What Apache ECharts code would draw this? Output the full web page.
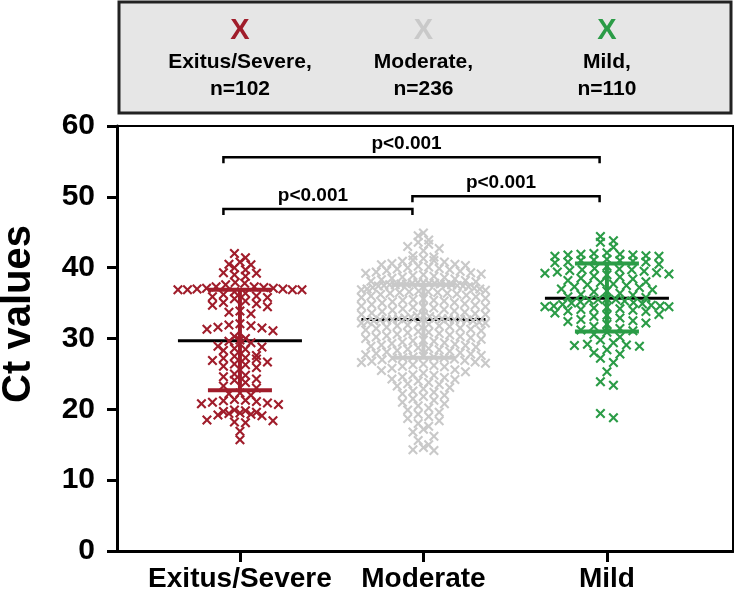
<!DOCTYPE html>
<html><head><meta charset="utf-8">
<script src="https://cdn.jsdelivr.net/npm/echarts@6/dist/echarts.min.js"></script>
<style>html,body{margin:0;padding:0;background:#fff}#c{width:734px;height:595px}</style>
</head><body><div id="c"></div>
<script>
// ---------------- data ----------------
const categories = ['Exitus/Severe', 'Moderate', 'Mild'];
const legendNames = ['Exitus/Severe,', 'Moderate,', 'Mild,'];
const legendCounts = ['n=102', 'n=236', 'n=110'];
const yTicks = [0, 10, 20, 30, 40, 50, 60];
const yAxisTitle = 'Ct values';

const severe = [
  42.0, 41.4, 40.8, 40.5, 40.4, 40.0, 39.7, 39.3, 39.2, 39.0, 38.8, 37.9, 37.8, 37.6, 37.3, 37.3, 37.2, 37.1, 37.1, 37.0, 37.0, 36.9, 36.9, 36.9, 36.9,
  36.6, 36.4, 36.2, 36.0, 35.9, 35.8, 35.6, 35.3, 35.1, 34.9, 34.7, 34.5, 33.9, 33.7, 33.5, 32.1, 31.9, 31.8, 31.6, 31.5, 31.3, 31.1, 30.3, 30.0, 29.8,
  29.6, 29.4, 28.9, 28.8, 28.6, 28.5, 28.3, 27.6, 27.5, 27.3, 27.2, 27.1, 26.9, 26.7, 26.4, 26.3, 26.1, 25.9, 25.0, 24.8, 24.6, 24.3, 24.1, 23.8, 23.3, 23.0,
  22.3, 22.2, 22.0, 21.4, 21.3, 21.2, 21.1, 21.0, 20.9, 20.8, 20.7, 19.9, 19.8, 19.7, 19.6, 19.5, 19.4, 19.3, 19.2, 19.1, 18.5, 18.4, 18.2, 18.1, 16.9, 15.7
];
const moderate = [
  44.9, 44.5, 43.9, 43.6, 43.3, 43.0, 42.7, 42.4,
  41.7, 41.5, 41.3, 41.1, 41.0, 40.9, 40.8, 40.6, 40.5, 40.4, 40.3, 40.2, 40.1, 40.0,
  39.9, 39.8, 39.7, 39.6, 39.5, 39.4, 39.3, 39.2, 39.1, 39.0,
  38.9, 38.8, 38.7, 38.6, 38.5, 38.4, 38.3, 38.2, 38.1, 38.0,
  37.9, 37.9, 37.8, 37.8, 37.8, 37.7, 37.7, 37.7, 37.6, 37.6, 37.6, 37.6,
  37.5, 37.5, 37.4, 37.4, 37.3, 37.2, 37.1, 37.0, 37.0, 36.9,
  36.8, 36.7, 36.6, 36.5, 36.5, 36.4, 36.3, 36.2, 36.1, 36.0,
  35.9, 35.8, 35.7, 35.6, 35.5, 35.4, 35.3, 35.2, 35.1, 35.0,
  34.9, 34.8, 34.7, 34.6, 34.5, 34.4, 34.3, 34.2, 34.1, 34.0,
  33.9, 33.8, 33.7, 33.6, 33.5, 33.4, 33.3, 33.2, 33.1, 33.0,
  32.9, 32.9, 32.8, 32.8, 32.8, 32.7, 32.7, 32.7, 32.7, 33.4, 34.4, 35.4, 36.4, 36.6,
  32.6, 32.6, 32.5, 32.5, 32.4, 32.3, 32.2, 32.2, 32.1, 32.0,
  31.9, 31.8, 31.8, 31.7, 31.6, 31.5, 31.4, 31.3, 31.2, 31.1,
  31.0, 30.9, 30.8, 30.7, 30.6, 30.5, 30.4, 30.3, 30.2, 30.1,
  30.0, 29.9, 29.8, 29.7, 29.6, 29.5, 29.4, 29.3, 29.2, 29.1,
  29.0, 28.9, 28.8, 28.7, 28.6, 28.5, 28.4, 28.3, 28.2, 28.1,
  28.0, 27.9, 27.8, 27.7, 27.6, 27.5, 27.4, 27.4, 27.3, 27.3,
  27.2, 27.1, 27.0, 26.9, 26.8, 26.7, 26.6, 26.5, 26.4, 26.3, 26.2, 26.1, 26.0,
  25.8, 25.6, 25.5, 25.3, 25.1, 24.9, 24.8, 24.6, 24.5, 24.3,
  24.2, 24.0, 23.8, 23.6, 23.5, 23.3, 23.1, 22.9, 22.6,
  22.4, 22.2, 22.0, 21.8, 21.5, 21.3, 21.0, 20.8,
  20.5, 20.2, 19.9, 19.6, 19.3, 19.0, 18.7,
  18.4, 18.0, 17.6, 17.2, 16.8, 16.2,
  15.6, 15.0, 14.6, 14.3, 14.2
];
const mild = [
  44.4, 43.8, 43.6, 42.9, 42.1, 42.0, 41.9, 41.9, 41.8, 41.8, 41.7, 41.6, 41.6, 41.2, 41.1, 41.0, 41.0, 40.9, 40.8, 40.8, 40.7,
  40.5, 40.2, 39.9, 39.8, 39.7, 39.7, 39.6, 39.5, 39.4, 39.3, 39.2, 39.1, 39.0, 38.8, 38.7, 38.5, 38.4, 38.2, 38.0, 37.9,
  37.7, 37.6, 37.5, 37.3, 37.2, 37.0, 36.9, 36.7, 36.6, 36.4, 36.2, 36.1, 35.9, 35.8,
  35.6, 35.5, 35.5, 35.4, 35.3, 35.2, 35.1, 35.0, 34.9, 34.8, 34.7, 34.6, 34.6, 34.5, 34.5, 34.4, 34.3, 34.2, 34.1, 34.0,
  33.9, 33.8, 33.6, 33.4, 33.3, 33.1, 32.9, 32.7, 32.5, 32.4, 32.2, 32.0, 31.7, 31.4, 31.2, 31.1, 30.9, 30.6, 30.2, 29.8,
  29.4, 29.2, 29.1, 29.0, 28.9, 28.4, 28.0, 27.8, 27.2, 26.6, 25.3, 23.9, 23.4, 19.4, 18.8
];
const medians = [29.7, 32.7, 35.7];
const q1 = [22.7, 27.3, 31.0];
const q3 = [36.9, 37.6, 40.6];

const pLabels = ['p<0.001', 'p<0.001', 'p<0.001'];
const bracketFrom = [0.91, 0.91, 1.94];
const bracketTo = [2.96, 1.94, 2.96];
const bracketY = [55.6, 48.3, 50.1];

// ---------------- style / layout ----------------
const colors = ['#a01d2b', '#c9c9c9', '#2b9c47'];
const FONT = 'Liberation Sans, Arial, sans-serif';
const GRID_L = 117, GRID_R = 733, GRID_T = 126, GRID_B = 551;
const XMIN = 0.33, XMAX = 3.687;
const pxPerX = (GRID_R - GRID_L) / (XMAX - XMIN);
const HALF_W = 62;               // max half width of a swarm row (px)
const STEPS = [11, 10.5, 13];    // preferred marker spacing per group (px)
const BIN = 1.15;                // row height in data units
const xPath = 'path://M0,1.5L1.5,0L5,3.5L8.5,0L10,1.5L6.5,5L10,8.5L8.5,10L5,6.5L1.5,10L0,8.5L3.5,5Z';

function swarm(values, center, step) {
  const bins = {};
  values.forEach(v => { const b = Math.floor(v / BIN); (bins[b] = bins[b] || []).push(v); });
  const out = [];
  Object.keys(bins).forEach(k => {
    const arr = bins[k].slice().sort((a, b) => b - a);
    const n = arr.length;
    const s = n > 1 ? Math.min(step, 2 * HALF_W / (n - 1)) : 0;
    const pos = [];
    for (let i = 0; i < n; i++) pos.push((i - (n - 1) / 2) * s);
    pos.sort((a, b) => (Math.abs(a) - Math.abs(b)) || (a - b));
    arr.forEach((v, i) => out.push([center + pos[i] / pxPerX, v]));
  });
  return out;
}

const groups = [severe, moderate, mild];
const scatterSeries = groups.map((g, i) => ({
  type: 'scatter', z: 3, silent: true,
  symbol: xPath, symbolSize: 10,
  itemStyle: { color: colors[i], opacity: 1 },
  data: swarm(g, i + 1, STEPS[i])
}));

const medianSeries = {
  type: 'custom', z: 2, silent: true,
  data: categories.map((c, i) => [i + 1, medians[i]]),
  renderItem(params, api) {
    const p = api.coord([api.value(0), api.value(1)]);
    return { type: 'line', shape: { x1: p[0] - HALF_W, y1: p[1], x2: p[0] + HALF_W, y2: p[1] },
      style: { stroke: '#000', lineWidth: 3 } };
  }
};
const errSeries = {
  type: 'custom', z: 4, silent: true,
  data: categories.map((c, i) => [i + 1, q1[i], q3[i]]),
  renderItem(params, api) {
    const lo = api.coord([api.value(0), api.value(1)]);
    const hi = api.coord([api.value(0), api.value(2)]);
    const col = colors[params.dataIndex];
    const st = { stroke: col, lineWidth: 4 };
    return { type: 'group', children: [
      { type: 'line', shape: { x1: lo[0], y1: lo[1], x2: hi[0], y2: hi[1] }, style: st },
      { type: 'line', shape: { x1: lo[0] - 32, y1: lo[1], x2: lo[0] + 32, y2: lo[1] }, style: st },
      { type: 'line', shape: { x1: hi[0] - 32, y1: hi[1], x2: hi[0] + 32, y2: hi[1] }, style: st }
    ]};
  }
};
const bracketSeries = {
  type: 'custom', z: 5, silent: true,
  data: pLabels.map((t, i) => [bracketFrom[i], bracketTo[i], bracketY[i]]),
  renderItem(params, api) {
    const a = api.coord([api.value(0), api.value(2)]);
    const b = api.coord([api.value(1), api.value(2)]);
    const st = { stroke: '#000', lineWidth: 2.5 };
    return { type: 'group', children: [
      { type: 'polyline', shape: { points: [[a[0], a[1] + 6], [a[0], a[1]], [b[0], b[1]], [b[0], b[1] + 6]] }, style: Object.assign({ fill: null }, st) },
      { type: 'text', x: (a[0] + b[0]) / 2 - 5, y: a[1] - 13,
        style: { text: pLabels[params.dataIndex], fill: '#000', font: 'bold 19px ' + FONT, align: 'center', verticalAlign: 'middle' } }
    ]};
  }
};

const graphics = [{
  type: 'rect', shape: { x: 119, y: 2, width: 612, height: 111 },
  style: { fill: '#e6e6e6', stroke: '#222', lineWidth: 3 }, z: 1
}, {
  type: 'text', x: 19, y: 314, rotation: Math.PI / 2, z: 2,
  style: { text: yAxisTitle, fill: '#000', font: 'bold 40px ' + FONT, align: 'center', verticalAlign: 'middle' }
}];
categories.forEach((c, i) => {
  const cx = GRID_L + (i + 1 - XMIN) * pxPerX;
  graphics.push(
    { type: 'text', x: cx, y: 31, z: 2, style: { text: 'X', fill: colors[i], font: 'bold 29px ' + FONT, align: 'center', verticalAlign: 'middle' } },
    { type: 'text', x: cx, y: 62, z: 2, style: { text: legendNames[i], fill: '#000', font: 'bold 21px ' + FONT, align: 'center', verticalAlign: 'middle' } },
    { type: 'text', x: cx, y: 89, z: 2, style: { text: legendCounts[i], fill: '#000', font: 'bold 21px ' + FONT, align: 'center', verticalAlign: 'middle' } }
  );
});

const chart = echarts.init(document.getElementById('c'));
chart.setOption({
  animation: false,
  backgroundColor: '#fff',
  grid: { left: GRID_L, right: 734 - GRID_R, top: GRID_T, bottom: 595 - GRID_B,
    show: true, borderColor: '#000', borderWidth: 2, backgroundColor: 'transparent' },
  xAxis: {
    type: 'value', min: XMIN, max: XMAX,
    axisLine: { lineStyle: { color: '#000', width: 3 } },
    axisTick: { show: true, customValues: [1, 2, 3], length: 11, lineStyle: { color: '#000', width: 3 } },
    axisLabel: { customValues: [1, 2, 3], formatter: v => categories[Math.round(v) - 1] || '',
      color: '#000', fontWeight: 'bold', fontSize: 28, fontFamily: FONT, margin: 14 },
    splitLine: { show: false }
  },
  yAxis: {
    type: 'value', min: yTicks[0], max: yTicks[yTicks.length - 1], interval: 10,
    axisLine: { lineStyle: { color: '#000', width: 3 } },
    axisTick: { length: 10, lineStyle: { color: '#000', width: 3 } },
    axisLabel: { color: '#000', fontWeight: 'bold', fontSize: 30, fontFamily: FONT, margin: 22 },
    splitLine: { show: false }
  },
  graphic: graphics,
  series: [medianSeries, ...scatterSeries, errSeries, bracketSeries]
});
</script>
</body></html>
